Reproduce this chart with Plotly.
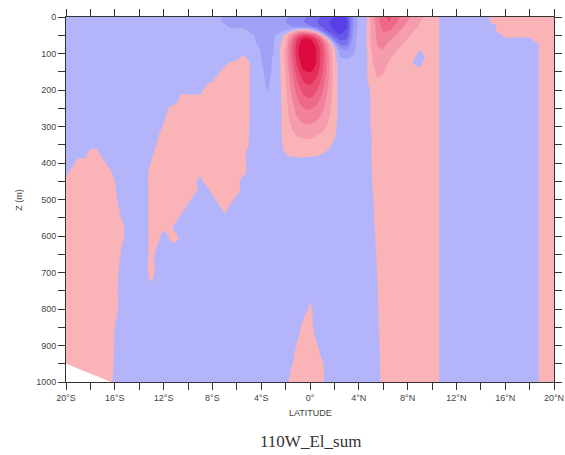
import numpy as np
import plotly.graph_objects as go

# ---------------------------------------------------------------
# Meridional section at 110W: latitude (0.5 deg grid) vs depth
# ---------------------------------------------------------------
lat = np.arange(-20.0, 20.01, 0.5)
depth = [0, 12, 25, 37, 50, 62, 75, 87, 100, 112, 125, 150, 175, 200, 225,
         250, 275, 300, 325, 350, 375, 400, 425, 450, 475, 500, 525, 550,
         575, 600, 650, 700, 750, 800, 850, 900, 950, 1000]

B, B2, P = -0.5, -1.5, 0.5
EAST = [(10.5, 0.1), (11.0, B), (19.0, P)]

# background field, per depth: runs of (starting latitude, value)
runs = {
    0:    [(-20, B), (-7.0, B2), (-4.5, B), (5.0, P), (10.5, 0.1), (11.0, B), (15.0, P)],
    12:   [(-20, B), (-7.0, B2), (-4.5, B), (5.0, P), (10.5, 0.1), (11.0, B), (15.0, P)],
    25:   [(-20, B), (-6.5, B2), (-4.5, B), (5.0, P), (10.5, 0.1), (11.0, B), (15.5, P)],
    37:   [(-20, B), (-5.0, -1.2), (-4.5, B), (5.0, P), (10.5, 0.1), (11.0, B), (15.5, P)],
    50:   [(-20, B), (5.0, P), (10.5, 0.1), (11.0, B), (16.0, P)],
    62:   [(-20, B), (5.0, P), (10.5, 0.1), (11.0, B), (18.5, P)],
    75:   [(-20, B), (5.0, P)] + EAST,
    87:   [(-20, B), (5.0, P)] + EAST,
    100:  [(-20, B), (5.0, P)] + EAST,
    112:  [(-20, B), (-5.5, P), (-5.0, B), (5.0, P)] + EAST,
    125:  [(-20, B), (-6.5, 0.07), (-6.0, P), (-5.0, 0.06), (-4.5, B), (5.0, P)] + EAST,
    150:  [(-20, B), (-7.5, -0.16), (-7.0, P), (-5.0, 0.06), (-4.5, B), (5.0, P)] + EAST,
    175:  [(-20, B), (-8.0, 0.0), (-7.5, P), (-5.0, 0.06), (-4.5, B), (5.0, P)] + EAST,
    200:  [(-20, B), (-8.5, P), (-5.0, 0.06), (-4.5, B), (5.0, 0.12), (5.5, P)] + EAST,
    225:  [(-20, B), (-10.5, P), (-5.0, 0.06), (-4.5, B), (5.0, 0.06), (5.5, P)] + EAST,
    250:  [(-20, B), (-11.5, 0.12), (-11.0, P), (-5.0, 0.06), (-4.5, B), (5.0, 0.06), (5.5, P)] + EAST,
    275:  [(-20, B), (-12.0, -0.21), (-11.5, P), (-5.0, 0.06), (-4.5, B), (5.0, 0.06), (5.5, P)] + EAST,
    300:  [(-20, B), (-12.0, 0.12), (-11.5, P), (-5.0, 0.03), (-4.5, B), (5.0, 0.06), (5.5, P)] + EAST,
    325:  [(-20, B), (-12.5, -0.12), (-12.0, P), (-5.0, 0.0), (-4.5, B), (5.0, -0.06), (5.5, P)] + EAST,
    350:  [(-20, B), (-12.5, 0.12), (-12.0, P), (-5.0, -0.03), (-4.5, B), (5.0, -0.06), (5.5, P)] + EAST,
    375:  [(-20, B), (-18.0, P), (-17.0, B), (-13.0, -0.21), (-12.5, P), (-5.0, B), (5.0, -0.06), (5.5, P)] + EAST,
    400:  [(-20, B), (-19.0, P), (-16.5, B), (-13.0, 0.06), (-12.5, P), (-5.0, B), (5.0, -0.06), (5.5, P)] + EAST,
    425:  [(-20, B), (-19.5, P), (-16.0, B), (-13.0, P), (-5.0, B), (5.0, -0.12), (5.5, P)] + EAST,
    450:  [(-20, P), (-16.0, 0.0), (-15.5, B), (-13.0, P), (-9.0, B), (-8.5, P), (-5.5, B), (5.0, -0.14), (5.5, P)] + EAST,
    475:  [(-20, P), (-16.0, 0.12), (-15.5, B), (-13.0, P), (-9.0, B), (-8.0, P), (-5.5, B), (5.0, -0.21), (5.5, P)] + EAST,
    500:  [(-20, P), (-16.0, 0.33), (-15.5, B), (-13.0, P), (-9.5, B), (-7.5, P), (-6.0, B), (5.0, -0.33), (5.5, P)] + EAST,
    525:  [(-20, P), (-15.5, -0.21), (-15.0, B), (-13.0, P), (-10.0, B), (-7.0, P), (-6.5, B), (5.5, P)] + EAST,
    550:  [(-20, P), (-15.5, 0.0), (-15.0, B), (-13.0, P), (-10.5, B), (5.5, P)] + EAST,
    575:  [(-20, P), (-15.0, B), (-13.0, P), (-11.0, B), (5.5, 0.33), (6.0, P)] + EAST,
    600:  [(-20, P), (-15.0, B), (-13.0, P), (-12.0, B), (-11.5, 0.15), (-11.0, 0.25), (-10.5, B), (5.5, 0.21), (6.0, P)] + EAST,
    650:  [(-20, P), (-15.5, -0.06), (-15.0, B), (-13.0, P), (-12.5, B), (5.5, 0.1), (6.0, P)] + EAST,
    700:  [(-20, P), (-15.5, -0.33), (-15.0, B), (-13.0, P), (-12.5, B), (5.5, 0.0), (6.0, P)] + EAST,
    750:  [(-20, P), (-15.5, B), (5.5, -0.06), (6.0, P)] + EAST,
    800:  [(-20, P), (-15.5, B), (0.0, 0.25), (0.5, B), (5.5, -0.12), (6.0, P)] + EAST,
    850:  [(-20, P), (-16.0, 0.0), (-15.5, B), (-0.5, P), (0.5, B), (5.5, -0.21), (6.0, P)] + EAST,
    900:  [(-20, P), (-16.0, -0.06), (-15.5, B), (-1.0, 0.2), (-0.5, P), (0.5, 0.2), (1.0, B), (5.5, -0.33), (6.0, P)] + EAST,
    950:  [(-20, P), (-16.0, -0.12), (-15.5, B), (-1.5, -0.1), (-1.0, P), (1.0, 0.1), (1.5, B), (6.0, P)] + EAST,
    1000: [(-20, P), (-16.0, -0.33), (-15.5, B), (-1.5, P), (1.0, 0.2), (1.5, B), (6.0, P)] + EAST,
}

# equatorial core, 4.5S-4.5N, 0-375 m
core_lat0 = -4.5
core_depth = [0, 12, 25, 37, 50, 62, 75, 87, 100, 112, 125, 150, 175, 200,
              225, 250, 275, 300, 325, 350, 375]
core_vals = [
    [-1.5, -1.5, -1.6, -1.6, -1.7, -1.9, -2.1, -2.4, -2.8, -3.2, -3.6, -4.1, -4.6, -5.0, -5.2, -4.9, -2.0, -0.6, -0.6],
    [-1.4, -1.5, -1.6, -1.6, -1.8, -2.0, -2.3, -2.6, -3.0, -3.4, -3.9, -4.4, -4.9, -5.3, -5.5, -5.2, -2.2, -0.6, -0.6],
    [-1.3, -1.5, -1.6, -1.5, -1.6, -1.8, -2.0, -2.2, -2.5, -2.9, -3.6, -4.2, -4.8, -5.3, -5.5, -5.2, -2.2, -0.6, -0.55],
    [-1.2, -1.4, -1.5, -1.4, -1.2, -1.0, -0.3, 0.6, 0.9, 0.3, -1.0, -3.2, -4.4, -5.0, -5.3, -4.9, -2.0, -0.55, -0.5],
    [-1.1, -1.3, -1.4, -1.2, -0.7, 0.2, 2.0, 3.8, 4.8, 4.5, 3.0, 0.5, -2.8, -4.3, -4.9, -4.5, -1.9, -0.5, -0.5],
    [-1.0, -1.3, -1.4, -1.1, -0.4, 0.6, 2.9, 5.2, 6.4, 6.3, 5.0, 3.0, 0.4, -3.0, -4.2, -3.9, -1.7, -0.5, -0.5],
    [-0.9, -1.2, -1.35, -1.1, -0.3, 1.0, 3.4, 5.6, 7.0, 6.9, 5.7, 4.0, 1.5, -0.8, -3.2, -3.2, -1.5, -0.5, -0.5],
    [-0.7, -1.1, -1.3, -1.05, -0.1, 1.2, 3.6, 5.8, 7.3, 7.2, 6.0, 4.3, 2.0, 0.2, -1.9, -2.2, -1.3, -0.5, -0.5],
    [-0.6, -1.05, -1.25, -1.0, -0.1, 1.3, 3.6, 5.8, 7.3, 7.3, 6.1, 4.5, 2.2, 0.3, -1.3, -1.6, -1.15, -0.5, -0.5],
    [-0.6, -1.0, -1.25, -0.95, -0.1, 1.3, 3.5, 5.6, 7.0, 7.1, 6.1, 4.5, 2.3, 0.4, -0.9, -1.1, -0.85, -0.5, -0.5],
    [-0.55, -0.95, -1.3, -0.9, -0.15, 1.2, 3.3, 5.4, 6.7, 6.9, 6.0, 4.4, 2.3, 0.4, -0.5, -0.6, -0.5, -0.5, -0.5],
    [-0.5, -0.8, -1.3, -0.8, -0.2, 1.0, 2.9, 4.7, 5.9, 6.1, 5.5, 4.1, 2.3, 0.45, -0.5, -0.5, -0.5, -0.5, -0.5],
    [-0.5, -0.65, -1.2, -0.7, -0.2, 0.9, 2.5, 4.1, 5.1, 5.3, 4.8, 3.7, 2.1, 0.45, -0.5, -0.5, -0.5, -0.5, -0.5],
    [-0.5, -0.55, -1.05, -0.6, -0.25, 0.8, 2.2, 3.5, 4.4, 4.6, 4.2, 3.2, 1.9, 0.45, -0.5, -0.5, -0.5, -0.5, -0.5],
    [-0.5, -0.5, -0.7, -0.55, -0.3, 0.7, 1.9, 3.0, 3.7, 3.9, 3.5, 2.7, 1.6, 0.45, -0.5, -0.5, -0.5, -0.5, -0.5],
    [-0.5, -0.5, -0.5, -0.5, -0.3, 0.65, 1.6, 2.5, 3.0, 3.1, 2.8, 2.2, 1.4, 0.45, -0.5, -0.5, -0.5, -0.5, -0.5],
    [-0.5, -0.5, -0.5, -0.5, -0.3, 0.6, 1.35, 2.0, 2.4, 2.45, 2.25, 1.8, 1.1, 0.4, -0.5, -0.5, -0.5, -0.5, -0.5],
    [-0.5, -0.5, -0.5, -0.5, -0.25, 0.55, 1.05, 1.5, 1.75, 1.8, 1.6, 1.3, 0.85, 0.3, -0.5, -0.5, -0.5, -0.5, -0.5],
    [-0.5, -0.5, -0.5, -0.5, -0.25, 0.45, 0.8, 1.05, 1.15, 1.15, 1.0, 0.8, 0.5, 0.1, -0.5, -0.5, -0.5, -0.5, -0.5],
    [-0.5, -0.5, -0.5, -0.5, -0.3, 0.3, 0.5, 0.65, 0.7, 0.7, 0.6, 0.45, 0.2, -0.2, -0.5, -0.5, -0.5, -0.5, -0.5],
    [-0.5, -0.5, -0.5, -0.5, -0.5, 0.0, 0.2, 0.3, 0.3, 0.25, 0.15, 0.0, -0.2, -0.4, -0.5, -0.5, -0.5, -0.5, -0.5],
]

# near-surface maximum at 5-10N, 0-175 m
ne_lat0 = 5.0
ne_depth = [0, 12, 25, 37, 50, 62, 75, 87, 100, 112, 125, 150, 175]
ne_vals = [
    [1.2, 2.7, 3.8, 4.2, 3.5, 2.8, 2.2, 1.7, 1.3, 0.8, 0.5],
    [1.2, 2.6, 3.7, 4.0, 3.3, 2.5, 2.0, 1.5, 1.05, 0.6, 0.5],
    [1.2, 2.4, 3.4, 3.5, 2.8, 2.2, 1.7, 1.3, 0.9, 0.55, 0.5],
    [1.2, 2.3, 3.1, 3.0, 2.4, 1.9, 1.4, 1.05, 0.7, 0.5, 0.5],
    [1.15, 2.2, 2.7, 2.5, 2.0, 1.6, 1.2, 0.8, 0.5, 0.5, 0.5],
    [1.1, 2.1, 2.4, 2.1, 1.7, 1.3, 0.95, 0.6, 0.5, 0.5, 0.5],
    [1.05, 2.0, 2.15, 1.8, 1.4, 1.05, 0.7, 0.5, 0.5, 0.5, 0.5],
    [1.0, 1.8, 2.05, 1.55, 1.15, 0.8, 0.55, 0.5, 0.2, 0.5, 0.5],
    [0.9, 1.6, 1.65, 1.3, 0.95, 0.6, 0.5, 0.45, -0.3, 0.4, 0.5],
    [0.85, 1.45, 1.45, 1.1, 0.75, 0.5, 0.5, 0.2, -0.9, 0.3, 0.5],
    [0.8, 1.35, 1.3, 0.95, 0.6, 0.5, 0.5, -0.1, -0.4, 0.5, 0.5],
    [0.7, 1.15, 1.05, 0.7, 0.5, 0.5, 0.5, 0.5, 0.5, 0.5, 0.5],
    [0.6, 0.9, 0.8, 0.55, 0.5, 0.5, 0.5, 0.5, 0.5, 0.5, 0.5],
]

# sea floor (no data below)
floor_lat = [-20.0, -16.3]
floor_depth = [950, 1000]

x_tick_vals = [-20, -16, -12, -8, -4, 0, 4, 8, 12, 16, 20]
x_tick_text = ["20°S", "16°S", "12°S", "8°S", "4°S", "0°", "4°N", "8°N", "12°N", "16°N", "20°N"]
y_tick_vals = [0, 100, 200, 300, 400, 500, 600, 700, 800, 900, 1000]

# ---------------------------------------------------------------
# assemble the field
# ---------------------------------------------------------------
Z = np.zeros((len(depth), len(lat)))
for i, d in enumerate(depth):
    for start, val in runs[d]:
        Z[i, lat >= start - 1e-9] = val


def paste(lat0, depths, vals):
    j0 = int(round((lat0 + 20.0) / 0.5))
    for d, row in zip(depths, vals):
        i = depth.index(d)
        Z[i, j0:j0 + len(row)] = row


paste(core_lat0, core_depth, core_vals)
paste(ne_lat0, ne_depth, ne_vals)

band_colors = [
    "rgb(88,62,230)", "rgb(104,86,235)", "rgb(122,112,240)", "rgb(142,140,244)",
    "rgb(160,160,247)", "rgb(180,180,250)",
    "rgb(250,180,184)", "rgb(246,156,172)", "rgb(242,130,156)", "rgb(238,104,136)",
    "rgb(234,78,114)", "rgb(228,48,88)", "rgb(220,10,62)",
]
n = len(band_colors) - 1
colorscale = [[k / n, c] for k, c in enumerate(band_colors)]

fig = go.Figure()
fig.add_trace(go.Contour(
    x=lat, y=depth, z=Z,
    autocontour=False,
    contours=dict(start=-5, end=6, size=1, coloring="fill", showlines=False),
    colorscale=colorscale, showscale=False,
    line=dict(width=0, smoothing=1.3),
    hoverinfo="skip",
))
fig.add_trace(go.Scatter(
    x=floor_lat + [floor_lat[0]], y=floor_depth + [floor_depth[-1]],
    fill="toself", fillcolor="white", mode="none", hoverinfo="skip",
    showlegend=False,
))

axis_font = dict(family="Liberation Sans, Arial, sans-serif", size=9, color="#444")
common = dict(showline=True, linecolor="#333", linewidth=1, mirror="ticks",
              ticks="outside", ticklen=7, tickwidth=1, tickcolor="#333",
              showgrid=False, zeroline=False, tickfont=axis_font, automargin=False)

fig.update_xaxes(range=[-20, 20], tickvals=x_tick_vals, ticktext=x_tick_text,
                 minor=dict(dtick=2, tick0=0, ticks="outside", ticklen=7,
                            tickcolor="#333", showgrid=False),
                 **common)
fig.update_yaxes(range=[1000, 0], tickvals=y_tick_vals,
                 minor=dict(dtick=50, tick0=0, ticks="outside", ticklen=7,
                            tickcolor="#333", showgrid=False),
                 **common)

fig.add_annotation(text="LATITUDE", xref="paper", yref="paper", x=0.5, y=-0.085,
                   showarrow=False, font=axis_font, yanchor="middle")
fig.add_annotation(text="Z (m)", xref="paper", yref="paper", x=-0.098, y=0.5,
                   showarrow=False, font=axis_font, textangle=-90, xanchor="center")
fig.add_annotation(text="110W_El_sum", xref="paper", yref="paper", x=0.5, y=-0.162,
                   showarrow=False, yanchor="middle",
                   font=dict(family="Liberation Serif, Times New Roman, serif", size=17, color="#333"))

fig.update_layout(width=565, height=455, margin=dict(l=66, r=11, t=17, b=73),
                  paper_bgcolor="white", plot_bgcolor="white", showlegend=False)

fig.write_html("out.html")
